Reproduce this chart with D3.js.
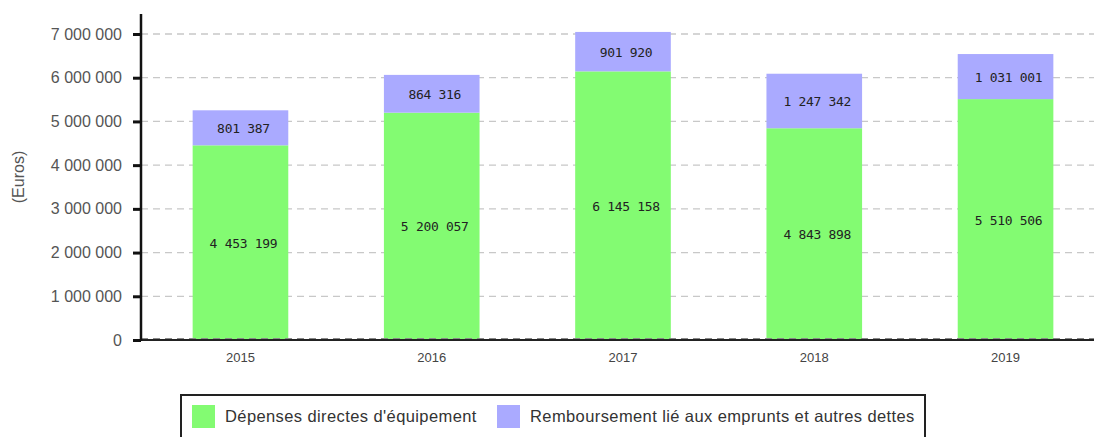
<!DOCTYPE html>
<html><head><meta charset="utf-8">
<script src="https://cdn.jsdelivr.net/npm/d3@7"></script>
<style>body{margin:0;background:#fff}svg{display:block}</style>
</head><body>
<svg id="c" width="1094" height="437"></svg>
<script>
const years = ["2015","2016","2017","2018","2019"];
const depenses = [4453199, 5200057, 6145158, 4843898, 5510506];
const remboursement = [801387, 864316, 901920, 1247342, 1031001];
const yTicks = [0, 1000000, 2000000, 3000000, 4000000, 5000000, 6000000, 7000000];
const seriesNames = ["Dépenses directes d'équipement", "Remboursement lié aux emprunts et autres dettes"];
const colors = ["#83fb72", "#aaaaff"];

const svg = d3.select("#c");
const fmt = v => d3.format(",")(v).replace(/,/g, " ");
const x = d3.scaleBand().domain(years).range([141, 1105]).paddingInner(0.5).paddingOuter(0.27);
const y = d3.scaleLinear().domain([0, 7000000]).range([340, 34]);

// gridlines
svg.append("g").selectAll("line").data(yTicks.slice(1)).join("line")
  .attr("x1", 141).attr("x2", 1094).attr("y1", d => y(d)).attr("y2", d => y(d))
  .attr("stroke", "#c8c8c8").attr("stroke-width", 1.3).attr("stroke-dasharray", "7,5");

// stacked data
const rows = years.map((yr, i) => ({year: yr, a: depenses[i], b: remboursement[i]}));
const stack = d3.stack().keys(["a", "b"])(rows);
const g = svg.append("g");
stack.forEach((s, si) => {
  g.selectAll(null).data(s).join("rect")
    .attr("x", d => x(d.data.year)).attr("width", x.bandwidth())
    .attr("y", d => y(d[1])).attr("height", d => y(d[0]) - y(d[1]))
    .attr("fill", colors[si]);
  g.selectAll(null).data(s).join("text")
    .attr("x", d => x(d.data.year) + x.bandwidth() / 2 + 3)
    .attr("y", d => (y(d[0]) + y(d[1])) / 2 + 5)
    .attr("text-anchor", "middle")
    .attr("font-family", "DejaVu Sans Mono, monospace").attr("font-size", 13)
    .attr("letter-spacing", -0.3)
    .attr("fill", "#222")
    .text(d => fmt(d[1] - d[0]));
});

// baseline
svg.append("line").attr("x1", 133).attr("x2", 1094).attr("y1", 340).attr("y2", 340)
  .attr("stroke", "#222").attr("stroke-width", 2);
svg.append("line").attr("x1", 141).attr("x2", 1094).attr("y1", 338.5).attr("y2", 338.5)
  .attr("stroke", "#888").attr("stroke-width", 1).attr("stroke-dasharray", "7,5");

// y axis
const yAxis = d3.axisLeft(y).tickValues(yTicks).tickFormat(fmt).tickSize(8).tickPadding(11);
const ya = svg.append("g").attr("transform", "translate(141,0)").call(yAxis);
ya.select(".domain").remove();
ya.selectAll(".tick line").attr("stroke", "#111").attr("stroke-width", 3);
ya.selectAll(".tick text").attr("font-family", "Liberation Sans, Arial, sans-serif")
  .attr("font-size", 16).attr("fill", "#555");
svg.append("line").attr("x1", 141).attr("x2", 141).attr("y1", 14).attr("y2", 341)
  .attr("stroke", "#111").attr("stroke-width", 2.5);

// x axis labels
const xAxis = d3.axisBottom(x).tickSize(0).tickPadding(13);
const xa = svg.append("g").attr("transform", "translate(0,340)").call(xAxis);
xa.select(".domain").remove();
xa.selectAll(".tick text").attr("font-family", "Liberation Sans, Arial, sans-serif")
  .attr("font-size", 13).attr("fill", "#444");

// y title
svg.append("text").attr("transform", "translate(24,177) rotate(-90)")
  .attr("text-anchor", "middle").attr("font-family", "Liberation Sans, Arial, sans-serif")
  .attr("font-size", 16).attr("fill", "#555").text("(Euros)");

// legend
svg.append("rect").attr("x", 181).attr("y", 395).attr("width", 744).attr("height", 50)
  .attr("fill", "#fff").attr("stroke", "#222").attr("stroke-width", 2);
const legX = [192, 497];
seriesNames.forEach((n, i) => {
  svg.append("rect").attr("x", legX[i]).attr("y", 405).attr("width", 23).attr("height", 23).attr("fill", colors[i]);
  svg.append("text").attr("x", legX[i] + 33).attr("y", 422)
    .attr("font-family", "Liberation Sans, Arial, sans-serif")
    .attr("font-size", 16.5).attr("letter-spacing", 0.4).attr("fill", "#333").text(n);
});
</script>
</body></html>
